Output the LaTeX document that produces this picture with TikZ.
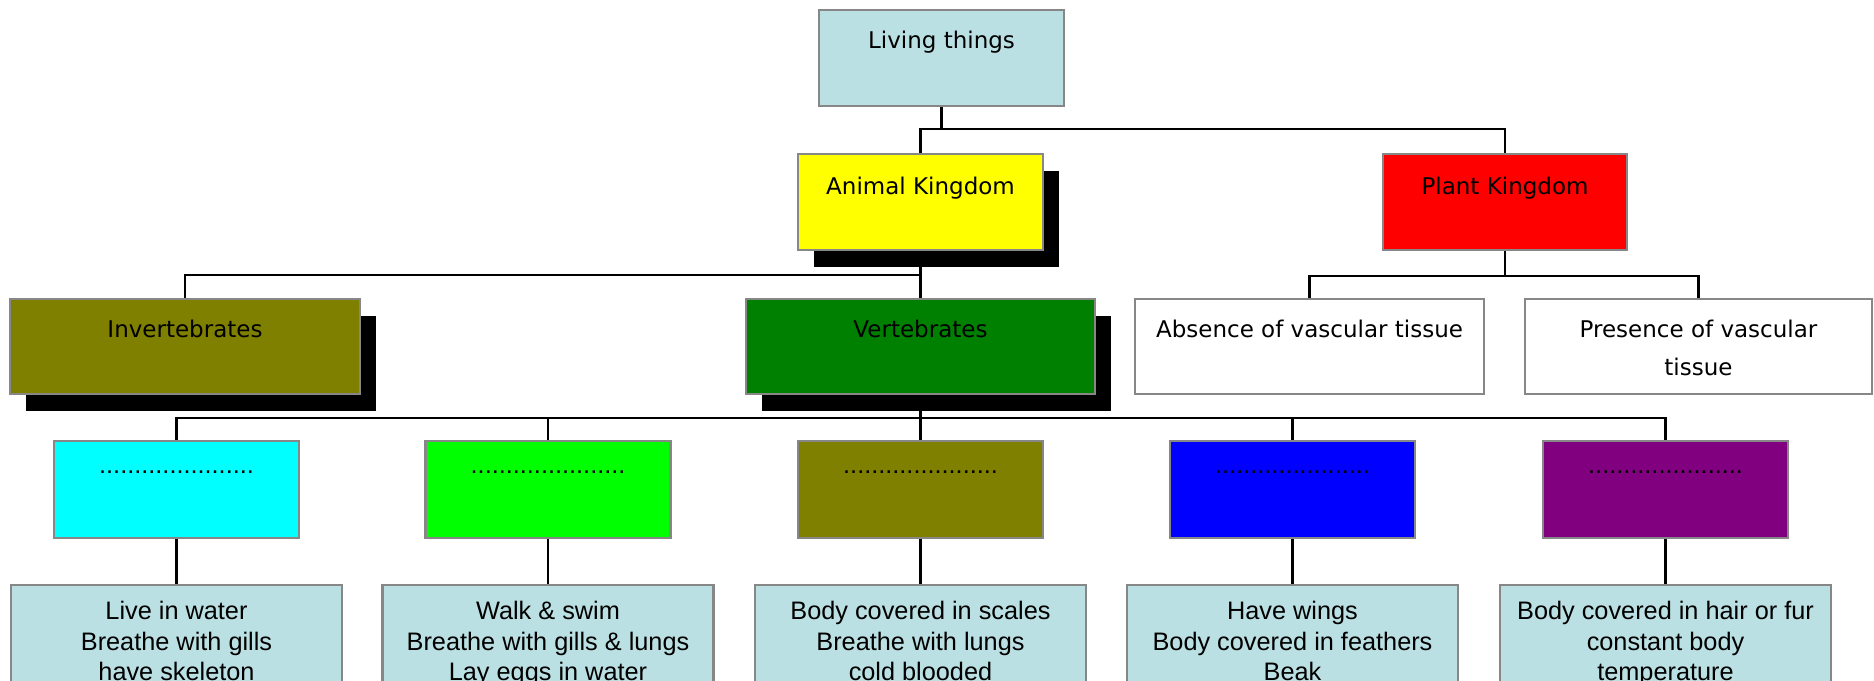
\documentclass[tikz,border=0pt]{standalone}
\usepackage{fontspec}
\setmainfont{DejaVu Sans}
\newfontfamily\arialf{Liberation Sans}
\usetikzlibrary{backgrounds}
\definecolor{lblue}{HTML}{BBE0E3}
\definecolor{bordergray}{HTML}{878787}
\definecolor{olivec}{HTML}{808000}
\definecolor{greenc}{HTML}{008000}
\definecolor{purplec}{HTML}{800080}
\definecolor{yellowc}{HTML}{FFFF00}
\definecolor{redc}{HTML}{FF0000}
\definecolor{limec}{HTML}{00FF00}
\definecolor{bluec}{HTML}{0000FF}
\definecolor{cyanc}{HTML}{00FFFF}
\definecolor{whitec}{HTML}{FFFFFF}
\tikzset{
  box/.style={draw=bordergray, line width=2.5pt, outer sep=0pt, minimum width=245pt, minimum height=96pt, inner sep=0pt},
  conn/.style={line width=2.2pt, draw=black},
  comic/.style={font=\fontsize{23}{38}\selectfont, anchor=north, inner sep=0pt, align=center},
  arialtxt/.style={font=\arialf\fontsize{25.3}{30.5}\selectfont, anchor=north, inner sep=0pt, align=center},
}
\begin{document}
\begin{tikzpicture}[x=1pt,y=-1pt]
\useasboundingbox (0,0) rectangle (1874,680);
\begin{scope}
\clip (0,0) rectangle (1874,680);
% level 0 / 1
\node[box, fill=lblue] (lt) at (941.5,58) {};
\node[box, fill=yellowc] (ak) at (920.5,202) {};
\node[box, fill=redc, minimum width=244pt] (pk) at (1505,202) {};
% level 2
\node[box, fill=olivec, minimum width=350pt, minimum height=95pt] (inv) at (185,346.5) {};
\node[box, fill=greenc, minimum width=349pt, minimum height=95pt] (vt) at (920.5,346.5) {};
\node[box, fill=whitec, minimum width=349pt, minimum height=95pt] (ab) at (1309.5,346.5) {};
\node[box, fill=whitec, minimum width=347pt, minimum height=95pt] (pr) at (1698.5,346.5) {};
% level 3
\node[box, fill=cyanc, minimum height=97pt] (c1) at (176.5,489.5) {};
\node[box, fill=limec, minimum height=97pt] (c2) at (548,489.5) {};
\node[box, fill=olivec, minimum height=97pt] (c3) at (920.5,489.5) {};
\node[box, fill=bluec, minimum height=97pt] (c4) at (1292.5,489.5) {};
\node[box, fill=purplec, minimum height=97pt] (c5) at (1665.5,489.5) {};
% level 4
\node[box, fill=lblue, minimum width=331pt, minimum height=130pt] (d1) at (176.5,650) {};
\node[box, fill=lblue, minimum width=331pt, minimum height=130pt] (d2) at (548,650) {};
\node[box, fill=lblue, minimum width=331pt, minimum height=130pt] (d3) at (920.5,650) {};
\node[box, fill=lblue, minimum width=331pt, minimum height=130pt] (d4) at (1292.5,650) {};
\node[box, fill=lblue, minimum width=331pt, minimum height=130pt] (d5) at (1665.5,650) {};
% texts
\node[comic] (ltT) at ([yshift=-11.8pt]lt.north) {\strut Living things};
\node[comic] (akT) at ([yshift=-13.5pt]ak.north) {\strut Animal Kingdom};
\node[comic] (pkT) at ([yshift=-13.5pt]pk.north) {\strut Plant Kingdom};
\node[comic] (invT) at ([yshift=-12pt]inv.north) {\strut Invertebrates};
\node[comic] (vtT) at ([yshift=-12pt]vt.north) {\strut Vertebrates};
\node[comic] (abT) at ([yshift=-12pt]ab.north) {\strut Absence of vascular tissue};
\node[comic] (prT) at ([yshift=-12pt]pr.north) {\strut Presence of vascular\\tissue};
\node[arialtxt] (c1T) at ([yshift=-11pt]c1.north) {\strut ......................};
\node[arialtxt] (c2T) at ([yshift=-11pt]c2.north) {\strut ......................};
\node[arialtxt] (c3T) at ([yshift=-11pt]c3.north) {\strut ......................};
\node[arialtxt] (c4T) at ([yshift=-11pt]c4.north) {\strut ......................};
\node[arialtxt] (c5T) at ([yshift=-11pt]c5.north) {\strut ......................};
\node[arialtxt] (d1T) at ([yshift=-13pt]d1.north) {\strut Live in water\\Breathe with gills\\have skeleton};
\node[arialtxt] (d2T) at ([yshift=-13pt]d2.north) {\strut Walk \& swim\\Breathe with gills \& lungs\\Lay eggs in water};
\node[arialtxt] (d3T) at ([yshift=-13pt]d3.north) {\strut Body covered in scales\\Breathe with lungs\\cold blooded};
\node[arialtxt] (d4T) at ([yshift=-13pt]d4.north) {\strut Have wings\\Body covered in feathers\\Beak};
\node[arialtxt] (d5T) at ([yshift=-13pt]d5.north) {\strut Body covered in hair or fur\\constant body\\temperature};
% shadows and connectors behind boxes
\begin{pgfonlayer}{background}
\fill[whitec] (0,0) rectangle (1874,680);
\fill[black] ([xshift=16pt,yshift=-17pt]ak.north west) rectangle ([xshift=16pt,yshift=-17pt]ak.south east);
\fill[black] ([xshift=16pt,yshift=-17pt]inv.north west) rectangle ([xshift=16pt,yshift=-17pt]inv.south east);
\fill[black] ([xshift=16pt,yshift=-17pt]vt.north west) rectangle ([xshift=16pt,yshift=-17pt]vt.south east);
\draw[conn] (lt.south) -- ++(0,23);
\draw[conn] (ak.north) -- ++(0,-25) -| (pk.north);
\draw[conn] (ak.south) -- (vt.north);
\draw[conn] (inv.north) -- ++(0,-24) -| (vt.north);
\draw[conn] (pk.south) -- ++(0,26);
\draw[conn] (ab.north) -- ++(0,-23) -| (pr.north);
\draw[conn] (vt.south) -- ++(0,24);
\draw[conn] (c1.north) -- ++(0,-23) -| (c5.north);
\draw[conn] (c2.north) -- ++(0,-23);
\draw[conn] (c3.north) -- ++(0,-23);
\draw[conn] (c4.north) -- ++(0,-23);
\draw[conn] (c1.south) -- (d1.north);
\draw[conn] (c2.south) -- (d2.north);
\draw[conn] (c3.south) -- (d3.north);
\draw[conn] (c4.south) -- (d4.north);
\draw[conn] (c5.south) -- (d5.north);
\end{pgfonlayer}
\end{scope}
\end{tikzpicture}
\end{document}
